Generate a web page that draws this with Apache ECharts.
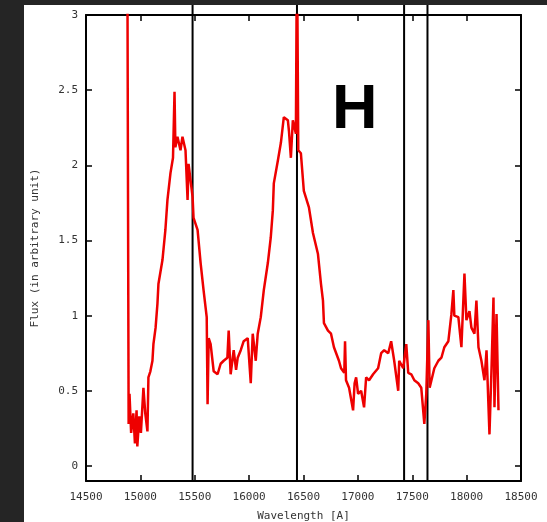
<!DOCTYPE html>
<html>
<head>
<meta charset="utf-8">
<script src="https://cdn.jsdelivr.net/npm/echarts@6/dist/echarts.min.js"></script>
<style>
  html, body { margin: 0; padding: 0; width: 547px; height: 522px; background: #252525; overflow: hidden; }
  #chart { position: absolute; left: 24px; top: 5px; width: 523px; height: 517px; background: #ffffff; }
</style>
</head>
<body>
<div id="chart"></div>
<script>
// ---- data ----
const wavelengths = [
  14880, 14892, 14900, 14915, 14935, 14950, 14965, 14972, 14990, 15005,
  15028, 15045, 15065, 15074, 15092, 15111, 15120, 15140, 15157, 15166,
  15203, 15230, 15249, 15277, 15300, 15314, 15322, 15341, 15369, 15387,
  15415, 15434, 15443, 15480, 15489, 15526, 15554, 15581, 15610, 15618,
  15628, 15646, 15674, 15710, 15738, 15766, 15800, 15812, 15830, 15858,
  15880, 15895, 15923, 15950, 15987, 16015, 16033, 16061, 16079, 16107,
  16135, 16172, 16199, 16218, 16227, 16264, 16292, 16319, 16356, 16366,
  16384, 16402, 16430, 16440, 16452, 16476, 16503, 16550, 16587, 16633,
  16661, 16679, 16688, 16725, 16753, 16780, 16826, 16845, 16875, 16882,
  16891, 16919, 16956, 16970, 16984, 17002, 17030, 17057, 17076, 17103,
  17140, 17186, 17214, 17242, 17279, 17306, 17334, 17371, 17380, 17417,
  17445, 17463, 17491, 17519, 17555, 17583, 17611, 17629, 17648, 17660,
  17676, 17703, 17740, 17768, 17795, 17832, 17860, 17878, 17887, 17924,
  17952, 17980, 17998, 18026, 18044, 18072, 18090, 18109, 18136, 18164,
  18183, 18210, 18229, 18247, 18256, 18275, 18293
];
const flux = [
  3.5, 0.28, 0.48, 0.22, 0.35, 0.15, 0.37, 0.13, 0.33, 0.22,
  0.52, 0.35, 0.23, 0.59, 0.63, 0.70, 0.81, 0.92, 1.08, 1.21,
  1.37, 1.57, 1.77, 1.95, 2.05, 2.49, 2.12, 2.19, 2.10, 2.19,
  2.10, 1.77, 2.01, 1.79, 1.65, 1.57, 1.35, 1.17, 0.99, 0.41,
  0.85, 0.81, 0.63, 0.61, 0.68, 0.70, 0.72, 0.90, 0.61, 0.77,
  0.64, 0.72, 0.77, 0.83, 0.85, 0.55, 0.88, 0.70, 0.88, 0.99,
  1.17, 1.35, 1.52, 1.70, 1.88, 2.03, 2.15, 2.32, 2.30, 2.23,
  2.05, 2.30, 2.21, 3.5, 2.10, 2.08, 1.83, 1.72, 1.55, 1.41,
  1.21, 1.10, 0.95, 0.90, 0.88, 0.79, 0.70, 0.65, 0.62, 0.83,
  0.57, 0.52, 0.37, 0.55, 0.59, 0.48, 0.50, 0.39, 0.59, 0.57,
  0.61, 0.65, 0.75, 0.77, 0.75, 0.83, 0.70, 0.50, 0.70, 0.65,
  0.81, 0.62, 0.61, 0.57, 0.55, 0.52, 0.28, 0.48, 0.97, 0.52,
  0.52, 0.65, 0.70, 0.72, 0.79, 0.83, 1.01, 1.17, 1.00, 0.99,
  0.79, 1.28, 0.97, 1.03, 0.92, 0.88, 1.10, 0.79, 0.70, 0.57,
  0.77, 0.21, 0.65, 1.12, 0.39, 1.01, 0.37
];
const markerLines = [15480, 16440, 17425, 17640];
const markerSpan = [-0.1, 3.067];
const yTickValues = [0, 0.5, 1, 1.5, 2, 2.5, 3];
const bandLabel = 'H';
const xName = 'Wavelength [A]';
const yName = 'Flux (in arbitrary unit)';

// ---- chart ----
const chart = echarts.init(document.getElementById('chart'), null, { renderer: 'canvas' });
const monoFont = 'DejaVu Sans Mono';
const tickStyle = { color: '#000', width: 1.5 };
const lineData = wavelengths.map((w, i) => [w, flux[i]]);

const markerSeries = markerLines.map(v => ({
  name: 'marker ' + v, type: 'line', clip: false, z: 3,
  data: markerSpan.map(y => [v, y]),
  showSymbol: false, symbol: 'none', silent: true,
  lineStyle: { color: '#000', width: 2 }
}));

const option = {
  backgroundColor: '#ffffff',
  animation: false,
  grid: { left: 62, right: 26, top: 10, bottom: 41, show: false, containLabel: false, outerBoundsMode: 'none' },
  xAxis: [
    {
      type: 'value', min: 14500, max: 18500, interval: 500, position: 'bottom',
      name: xName, nameLocation: 'middle', nameGap: 30,
      nameTextStyle: { fontFamily: monoFont, fontSize: 11, color: '#333' },
      axisLine: { show: true, onZero: false, lineStyle: { color: '#000', width: 2 } },
      axisTick: { show: true, inside: true, length: 6, lineStyle: tickStyle },
      axisLabel: { fontFamily: monoFont, fontSize: 11, color: '#333', margin: 11, formatter: v => String(v) },
      splitLine: { show: false }
    },
    {
      type: 'value', min: 14500, max: 18500, interval: 500, position: 'top',
      axisLine: { show: true, onZero: false, lineStyle: { color: '#000', width: 2 } },
      axisTick: { show: true, inside: true, length: 6, lineStyle: tickStyle },
      axisLabel: { show: false },
      splitLine: { show: false }
    }
  ],
  yAxis: [
    {
      type: 'value', min: -0.1, max: 3, position: 'left',
      name: yName, nameLocation: 'middle', nameGap: 45, nameRotate: 90,
      nameTextStyle: { fontFamily: monoFont, fontSize: 11, color: '#333' },
      axisLine: { show: true, onZero: false, lineStyle: { color: '#000', width: 2 } },
      axisTick: { show: true, inside: true, length: 6, lineStyle: tickStyle, customValues: yTickValues },
      axisLabel: { fontFamily: monoFont, fontSize: 11, color: '#333', margin: 8, customValues: yTickValues },
      splitLine: { show: false }
    },
    {
      type: 'value', min: -0.1, max: 3, position: 'right',
      axisLine: { show: true, onZero: false, lineStyle: { color: '#000', width: 2 } },
      axisTick: { show: true, inside: true, length: 6, lineStyle: tickStyle, customValues: yTickValues },
      axisLabel: { show: false },
      splitLine: { show: false }
    }
  ],
  graphic: [
    {
      type: 'text', left: 308, top: 74, z: 10,
      style: { text: bandLabel, font: 'bold 63px "Liberation Sans", Arial, sans-serif', fill: '#000' }
    }
  ],
  series: markerSeries.concat([
    {
      name: 'Flux', type: 'line', data: lineData, xAxisIndex: 0, yAxisIndex: 0,
      showSymbol: false, symbol: 'none', clip: true, z: 5,
      lineStyle: { color: '#ee0000', width: 2.5 }
    }
  ])
};
chart.setOption(option);
</script>
</body>
</html>
